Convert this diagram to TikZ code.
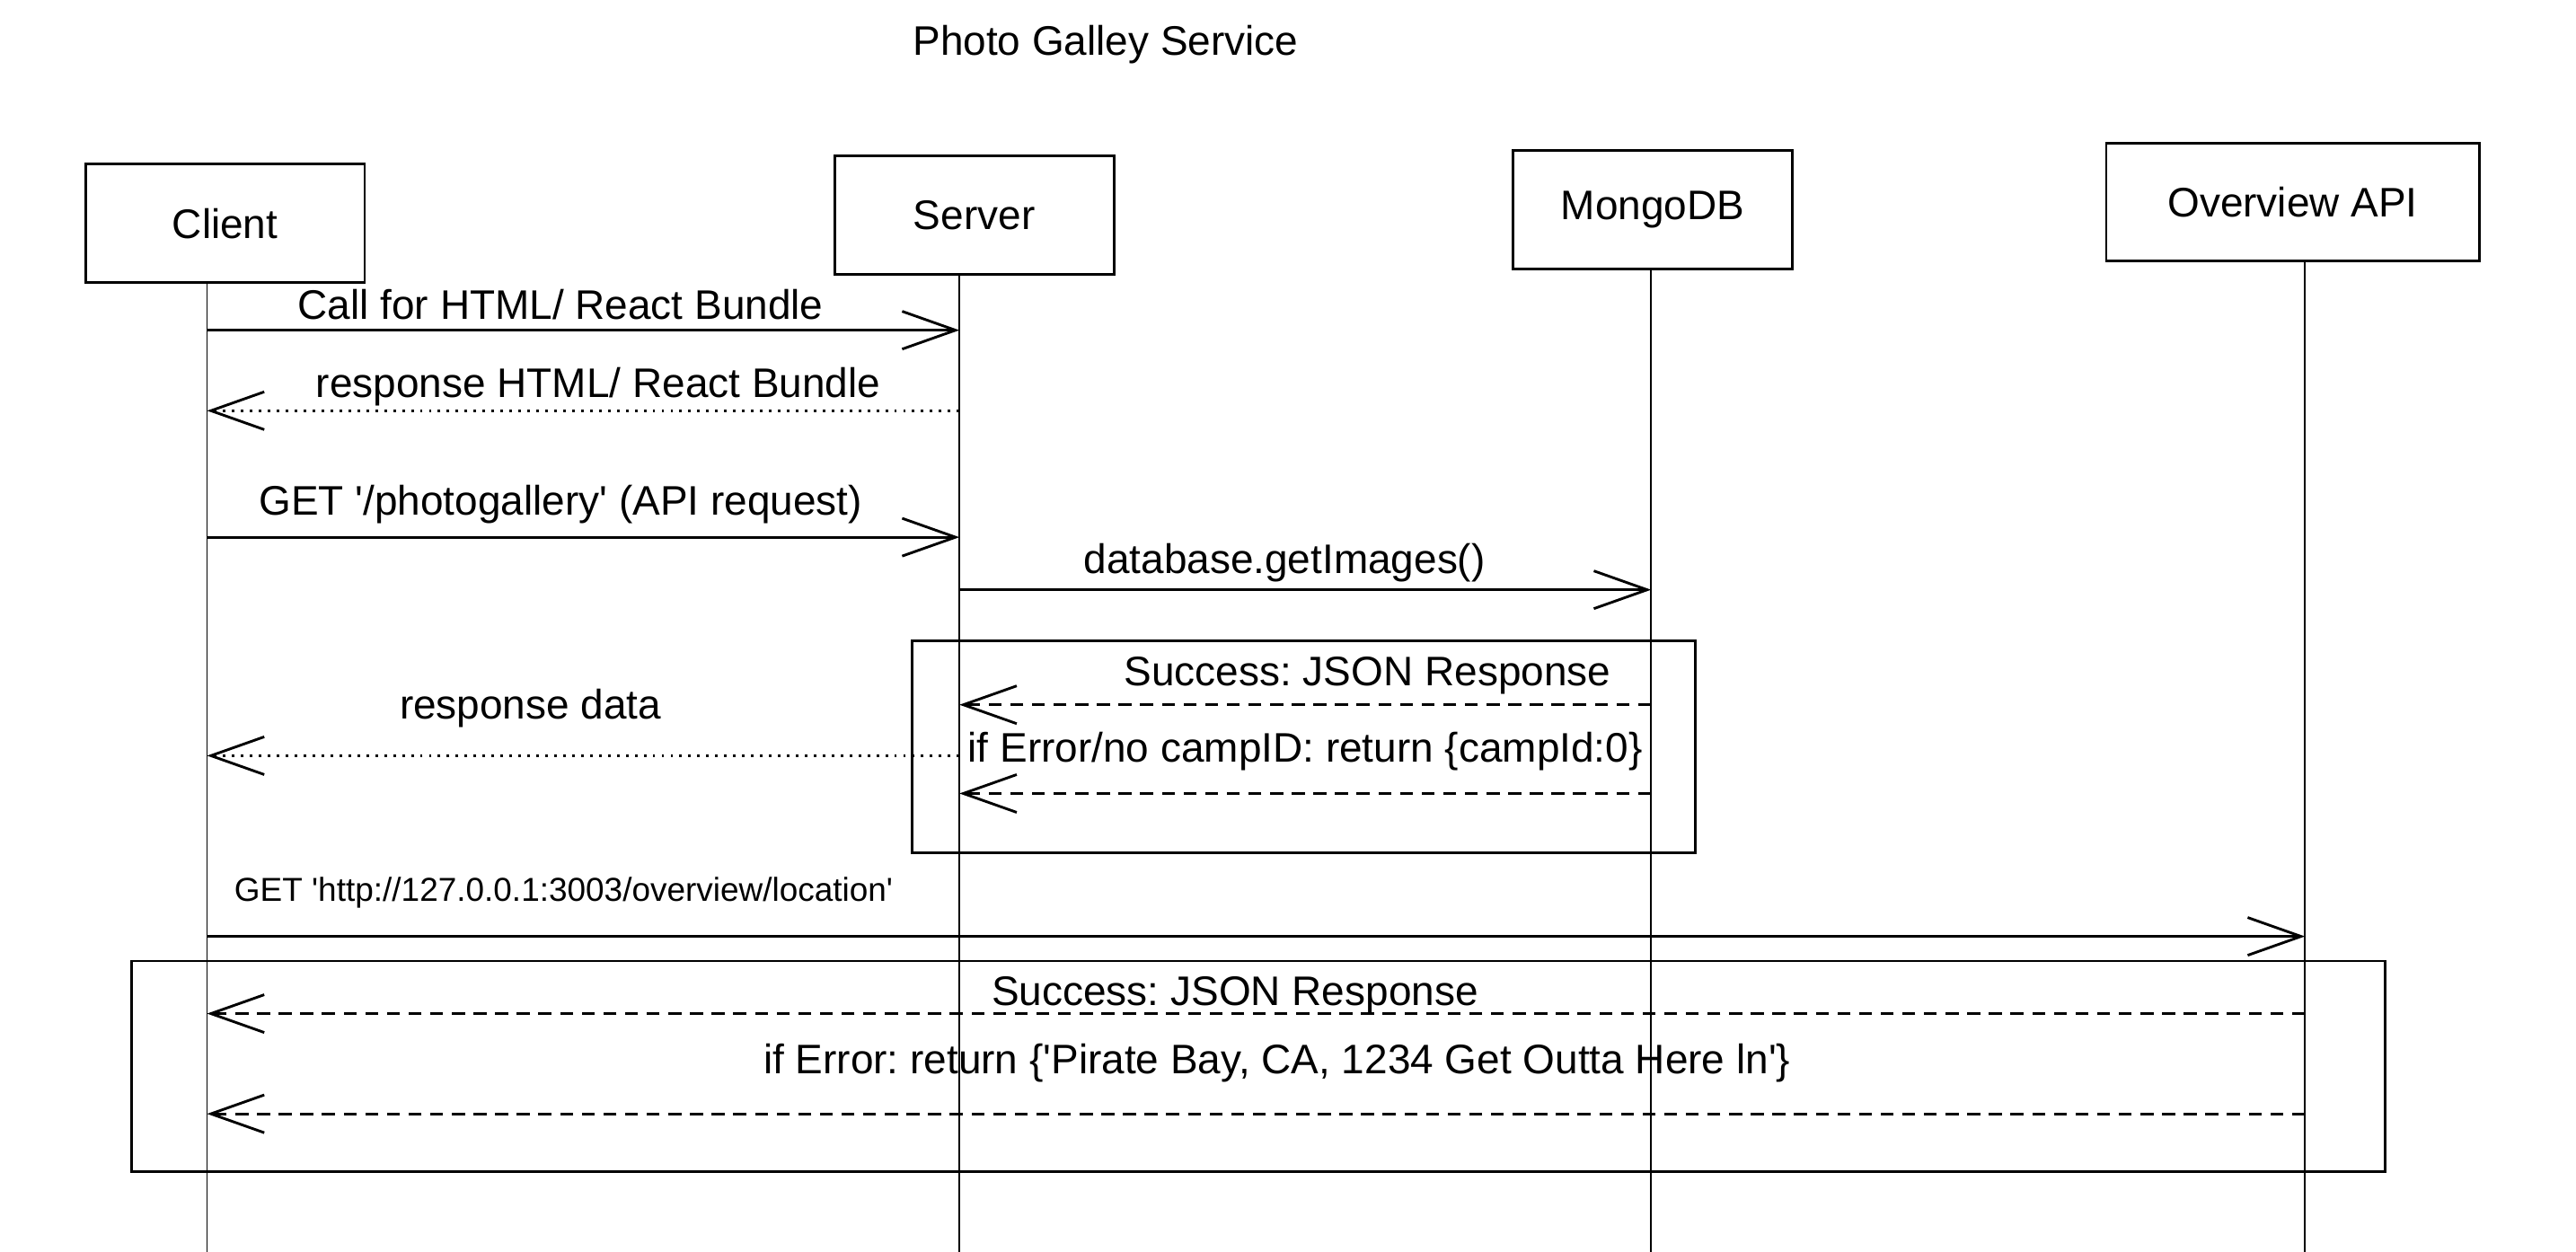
\documentclass[tikz,border=0pt]{standalone}
\usepackage{fontspec}
\setmainfont{Liberation Sans}[Ligatures=TeXOff]
\usetikzlibrary{arrows.meta}
\frenchspacing
\begin{document}
\begin{tikzpicture}[x=.02cm,y=-.02cm,font=\fontsize{14.3}{16}\selectfont,
    actor/.style={draw,line width=.9pt,minimum height=1.44cm,minimum width=3.4cm},
    life/.style={line width=.6pt},
    call/.style={line width=.9pt,-{Straight Barb[length=6.5mm,width=4.6mm]}},
    back/.style={call,dash pattern=on 4.5pt off 3pt},
    ret/.style={call,dash pattern=on .9pt off 2.2pt},
    frame/.style={line width=.9pt}]
    \useasboundingbox (0,0) rectangle (1568,762);
    \node (title) at (673,27) {Photo Galley Service};
    \node[actor] (client) at (137,136) {Client};
    \node[actor] (server) at (593,131) {Server};
    \node[actor] (mongo) at (1006,127.5) {MongoDB};
    \node[actor,minimum width=4.54cm] (overview) at (1395.5,123) {Overview API};
    \coordinate (cl) at (client.south -| 126,0);
    \coordinate (sv) at (server.south -| 584,0);
    \coordinate (db) at (mongo.south -| 1005,0);
    \coordinate (ov) at (overview.south -| 1403,0);
    \draw[life] (cl)--(cl |- 0,762);
    \draw[life] (sv)--(sv |- 0,762);
    \draw[life] (db)--(db |- 0,762);
    \draw[life] (ov)--(ov |- 0,762);
    \draw[call] (cl |- 0,201)--node[above,pos=.47]{Call for HTML/ React Bundle}(sv |- 0,201);
    \draw[ret] (sv |- 0,250)--node[above=-2pt,pos=.48]{response HTML/ React Bundle}(cl |- 0,250);
    \draw[call] (cl |- 0,327)--node[above=1pt,pos=.47]{GET '/photogallery' (API request)}(sv |- 0,327);
    \draw[call] (sv |- 0,359)--node[above=-1pt,pos=.47]{database.getImages()}(db |- 0,359);
    \draw[frame] (555,390) rectangle (1032,519);
    \draw[back] (db |- 0,429)--node[above,pos=.41]{Success: JSON Response}(sv |- 0,429);
    \draw[back] (db |- 0,483)--node[above=4pt,pos=.5]{if Error/no campID: return \{campId:0\}}(sv |- 0,483);
    \draw[ret] (sv |- 0,460)--node[above=6pt,pos=.57]{response data}(cl |- 0,460);
    \draw[call] (cl |- 0,570)--node[above=6pt,pos=.17,font=\fontsize{11.5}{13}\selectfont]{GET 'http://127.0.0.1:3003/overview/location'}(ov |- 0,570);
    \draw[frame] (80,585) rectangle (1452,713);
    \draw[back] (ov |- 0,617)--node[above=-4pt,pos=.51]{Success: JSON Response}(cl |- 0,617);
    \draw[back] (ov |- 0,678)--node[above=7pt,pos=.49]{if Error: return \{'Pirate Bay, CA, 1234 Get Outta Here ln'\}}(cl |- 0,678);
\end{tikzpicture}
\end{document}
